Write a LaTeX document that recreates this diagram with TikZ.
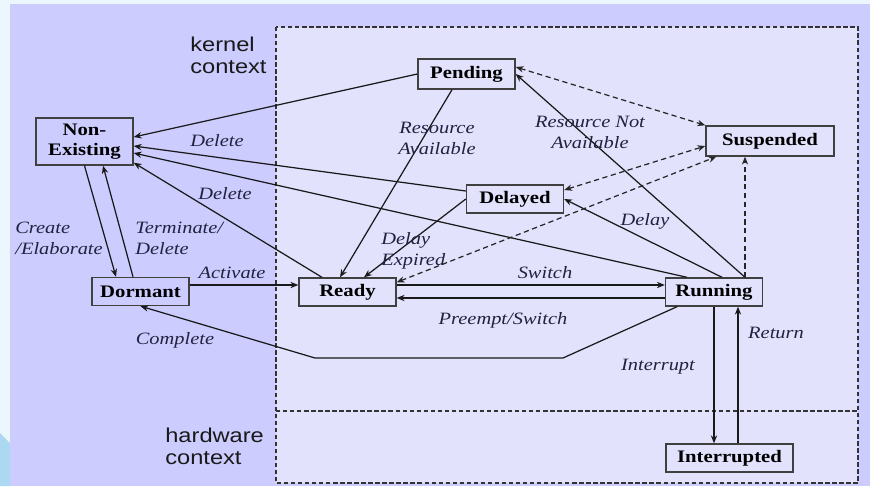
\documentclass[tikz,border=0pt]{standalone}
\usepackage{fontspec}
\setmainfont{Liberation Serif}[FakeStretch=1.18]
\setsansfont{Liberation Sans}[FakeStretch=1.18]
\usepackage{tikz}
\usetikzlibrary{arrows.meta}
\definecolor{pagebg}{RGB}{236,246,253}
\definecolor{swoosh}{RGB}{172,216,242}
\definecolor{slidebg}{RGB}{204,204,255}
\definecolor{ctxbg}{RGB}{226,226,253}
\definecolor{labeltext}{RGB}{34,34,64}

\begin{document}
\begin{tikzpicture}[
  >={Stealth[length=4.5pt,width=3.6pt]},
  tbox/.style={rectangle,draw=black!75,line width=0.8pt,minimum width=1.94cm,
    minimum height=0.56cm,inner sep=0pt,align=center,
    font=\fontsize{10}{11.4}\selectfont\bfseries},
  lbl/.style={inner sep=0pt,align=center,text=labeltext,
    font=\fontsize{9.85}{11.95}\selectfont\itshape},
  ctx/.style={inner sep=0pt,align=left,anchor=west,text=black!90,
    font=\fontsize{11.4}{12.5}\selectfont\sffamily},
  trans/.style={->,line width=0.7pt,draw=black!90},
  susp/.style={line width=0.7pt,draw=black!85,dash pattern=on 3pt off 2pt},
  ctxline/.style={line width=0.6pt,draw=black!80,dash pattern=on 2.5pt off 1.5pt}
]
% background and contexts
\fill[pagebg] (0,0) rectangle (17.4,-9.72);
\fill[swoosh] (0,-8.66) -- (0.2,-8.86) -- (0.2,-9.72) -- (0,-9.72) -- cycle;
\fill[slidebg] (0.2,-0.08) rectangle (17.4,-9.72);
\fill[ctxbg] (5.52,-0.54) rectangle (17.16,-9.66);
\draw[ctxline] (5.52,-0.54) rectangle (17.16,-9.66);
\draw[ctxline] (5.52,-8.22) -- (17.16,-8.22);

\node[ctx] (kctx) at (3.8,-1.1)  {kernel\\context};
\node[ctx] (hctx) at (3.3,-8.93) {hardware\\context};

% states
\node[tbox,minimum height=0.94cm] (nonex) at (1.69,-2.83) {Non-\\Existing};
\node[tbox,minimum height=0.6cm] (pending) at (9.33,-1.48) {Pending};
\node[tbox,minimum width=2.56cm,minimum height=0.6cm] (susp) at (15.4,-2.82) {Suspended};
\node[tbox] (delayed) at (10.3,-3.98)  {Delayed};
\node[tbox] (dormant) at (2.81,-5.83)  {Dormant};
\node[tbox] (ready)   at (6.95,-5.84)  {Ready};
\node[tbox] (running) at (14.28,-5.84) {Running};
\node[tbox,minimum width=2.54cm] (interr) at (14.59,-9.16) {Interrupted};

% transitions
\draw[trans] (pending.west) -- ([yshift=0.09cm]nonex.east);
\draw[trans] ([yshift=0.16cm]delayed.west) -- ([yshift=-0.09cm]nonex.east);
\draw[trans] ([xshift=-0.54cm]running.north) -- ([yshift=-0.23cm]nonex.east);
\draw[trans] ([xshift=-0.51cm]ready.north) -- ([yshift=0.06cm]nonex.south east);
\draw[trans] (nonex.south) -- ([xshift=-0.49cm]dormant.north);
\draw[trans] ([xshift=-0.15cm]dormant.north) -- ([xshift=0.37cm]nonex.south);
\draw[trans] ([yshift=0.13cm]dormant.east) -- ([yshift=0.13cm]dormant.east -| ready.west);
\draw[trans] ([xshift=-0.74cm]running.south) -- (11.26,-7.16) -- (6.3,-7.16) -- (dormant.south);
\draw[trans] ([yshift=0.14cm]ready.east) -- ([yshift=0.14cm]ready.east -| running.west);
\draw[trans] ([yshift=-0.12cm]running.west) -- ([yshift=-0.12cm]running.west -| ready.east);
\draw[trans] ([xshift=-0.29cm]pending.south) -- ([xshift=-0.15cm]ready.north);
\draw[trans] (delayed.west) -- ([xshift=0.33cm]ready.north);
\draw[trans] ([xshift=0.62cm]running.north) -- (pending.east);
\draw[trans] ([xshift=0.16cm]running.north) -- (delayed.east);
\draw[trans] (running.south) -- (running.south |- interr.north);
\draw[trans] ([xshift=0.48cm]running.south |- interr.north) -- ([xshift=0.48cm]running.south);

% to and from suspended
\draw[susp,<->] ([yshift=0.14cm]pending.east) -- (susp.north west);
\draw[susp,<->] ([yshift=0.18cm]delayed.east) -- ([yshift=-0.1cm]susp.west);
\draw[susp,<->] ([yshift=-0.1cm]ready.north east) -- ([xshift=0.22cm]susp.south west);
\draw[susp,->] ([xshift=0.62cm]running.north) -- ([xshift=0.62cm]running.north |- susp.south);

% labels
\node[lbl] (ldel1)  at (4.34,-2.82) {Delete};
\node[lbl] (ldel2)  at (4.5,-3.88)  {Delete};
\node[lbl,align=left,anchor=west] (lcreate) at (0.3,-4.77) {Create\\/Elaborate};
\node[lbl,align=left,anchor=west] (lterm)   at (2.7,-4.77) {Terminate/\\Delete};
\node[lbl] (lact)   at (4.64,-5.46) {Activate};
\node[lbl] (lcompl) at (3.5,-6.8)   {Complete};
\node[lbl] (lresav) at (8.74,-2.77) {Resource\\Available};
\node[lbl] (lresna) at (11.8,-2.64) {Resource Not\\Available};
\node[lbl,align=left,anchor=west] (ldexp) at (7.62,-5.01) {Delay\\Expired};
\node[lbl] (lsw)    at (10.9,-5.46) {Switch};
\node[lbl] (lpre)   at (10.06,-6.4) {Preempt/Switch};
\node[lbl] (ldelay) at (12.9,-4.42) {Delay};
\node[lbl] (lint)   at (13.16,-7.34) {Interrupt};
\node[lbl] (lret)   at (15.52,-6.66) {Return};
\end{tikzpicture}
\end{document}
